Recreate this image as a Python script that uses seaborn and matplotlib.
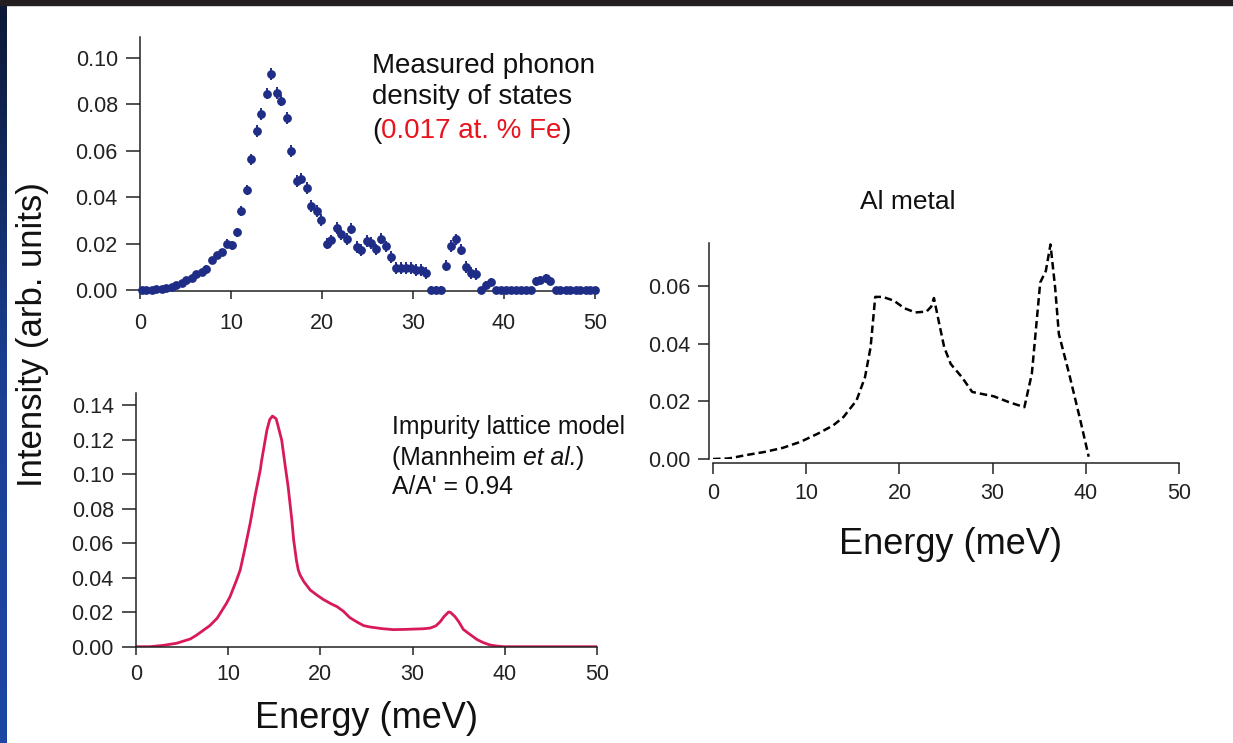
import numpy as np
import matplotlib
matplotlib.use('Agg')
import matplotlib.pyplot as plt
import seaborn as sns
from matplotlib.patches import Rectangle
from matplotlib.colors import LinearSegmentedColormap

# measured phonon DOS (0.017 at.% Fe), points with error bars
meas_energy = [0.2, 0.7, 1.3, 1.8, 2.4, 2.9, 3.5, 4.0, 4.6, 5.1,
               5.7, 6.2, 6.8, 7.3, 7.9, 8.4, 9.0, 9.5, 10.1, 10.6,
               11.1, 11.7, 12.2, 12.8, 13.3, 13.9, 14.4, 15.0, 15.5, 16.1,
               16.6, 17.2, 17.7, 18.3, 18.8, 19.4, 19.9, 20.5, 21.0, 21.6,
               22.1, 22.7, 23.2, 23.8, 24.3, 24.9, 25.4, 25.9, 26.5, 27.0,
               27.6, 28.1, 28.7, 29.2, 29.8, 30.3, 30.9, 31.4, 32.0, 32.5,
               33.1, 33.6, 34.2, 34.7, 35.3, 35.8, 36.4, 36.9, 37.5, 38.0,
               38.6, 39.1, 39.7, 40.2, 40.8, 41.3, 41.9, 42.4, 43.0, 43.5,
               44.0, 44.6, 45.1, 45.7, 46.2, 46.8, 47.3, 47.9, 48.4, 49.0,
               49.5, 50.0]
meas_dos = [0.0, 0.0, 0.0002, 0.0003, 0.0006, 0.0009, 0.0013, 0.0022, 0.0032, 0.0042,
            0.0052, 0.0068, 0.0076, 0.0092, 0.0128, 0.0150, 0.0162, 0.0200, 0.0192, 0.0248,
            0.0340, 0.0432, 0.0563, 0.0686, 0.0758, 0.0846, 0.0930, 0.0850, 0.0816, 0.0740,
            0.0598, 0.0470, 0.0480, 0.0440, 0.0362, 0.0340, 0.0302, 0.0200, 0.0214, 0.0268,
            0.0240, 0.0220, 0.0265, 0.0185, 0.0172, 0.0212, 0.0202, 0.0175, 0.0222, 0.0188,
            0.0142, 0.0096, 0.0096, 0.0096, 0.0096, 0.0086, 0.0086, 0.0074, 0.0, 0.0,
            0.0, 0.0105, 0.0190, 0.0218, 0.0174, 0.0098, 0.0074, 0.0070, 0.0, 0.0020,
            0.0035, 0.0, 0.0, 0.0, 0.0, 0.0, 0.0, 0.0, 0.0, 0.0037,
            0.0043, 0.0050, 0.0038, 0.0, 0.0, 0.0, 0.0, 0.0, 0.0, 0.0,
            0.0, 0.0]
meas_err = [0.0006, 0.0006, 0.0006, 0.0006, 0.0006, 0.0006, 0.0008, 0.0010, 0.0010, 0.0010,
            0.0012, 0.0012, 0.0012, 0.0014, 0.0014, 0.0015, 0.0015, 0.0018, 0.0018, 0.0020,
            0.0022, 0.0022, 0.0025, 0.0025, 0.0025, 0.0025, 0.0025, 0.0025, 0.0025, 0.0025,
            0.0025, 0.0025, 0.0025, 0.0025, 0.0025, 0.0025, 0.0025, 0.0025, 0.0025, 0.0025,
            0.0025, 0.0025, 0.0025, 0.0025, 0.0025, 0.0025, 0.0025, 0.0025, 0.0025, 0.0025,
            0.0025, 0.0025, 0.0025, 0.0025, 0.0025, 0.0025, 0.0025, 0.0025, 0.0018, 0.0018,
            0.0018, 0.0025, 0.0025, 0.0025, 0.0025, 0.0025, 0.0025, 0.0025, 0.0015, 0.0018,
            0.0018, 0.0012, 0.0012, 0.0012, 0.0012, 0.0012, 0.0012, 0.0012, 0.0012, 0.0018,
            0.0018, 0.0018, 0.0018, 0.0012, 0.0012, 0.0012, 0.0012, 0.0012, 0.0012, 0.0012,
            0.0012, 0.0012]

# impurity lattice model (Mannheim et al.)
model_energy = [0, 1.5, 3.0, 4.4, 5.9, 6.6, 8.0, 8.8, 9.8, 10.2, 10.9, 11.3, 11.8, 12.4, 12.9,
                13.5, 13.6, 14.2, 14.5, 14.8, 15.2, 15.4, 15.8, 16.2, 16.5, 16.9, 17.1, 17.4,
                17.6, 17.8, 18.2, 18.9, 19.6, 20.3, 21.1, 21.8, 22.5, 23.2, 24.0, 24.7, 25.4,
                26.5, 26.8, 27.9, 29.0, 30.1, 31.2, 31.9, 32.5, 33.0, 33.4, 33.9, 34.1, 34.6,
                35.0, 35.5, 36.3, 37.0, 37.7, 38.4, 39.1, 39.9, 50]
model_dos = [0, 0, 0.0008, 0.002, 0.0045, 0.0068, 0.0122, 0.0165, 0.025, 0.029, 0.0385, 0.0444,
             0.0565, 0.072, 0.087, 0.103, 0.107, 0.1255, 0.1315, 0.1336, 0.1320, 0.1280, 0.1197,
             0.104, 0.0927, 0.0734, 0.0618, 0.050, 0.0444, 0.0415, 0.0377, 0.0328, 0.030, 0.0274,
             0.025, 0.0232, 0.0205, 0.0168, 0.0142, 0.0122, 0.0114, 0.0106, 0.0104, 0.0099, 0.010,
             0.0102, 0.0104, 0.0108, 0.012, 0.0145, 0.0174, 0.0201, 0.0199, 0.0174, 0.0145,
             0.0100, 0.0068, 0.0041, 0.0023, 0.001, 0.0004, 0, 0]

# Al metal DOS
al_energy = [0, 1.7, 3.6, 5.6, 7.5, 9.4, 11.3, 12.9, 14.0, 15.4, 16.3, 16.9, 17.4, 18.2,
             19.4, 20.5, 21.7, 22.9, 23.4, 23.7, 24.2, 24.8, 25.5, 26.7, 27.8, 29.0, 30.1,
             31.7, 33.4, 34.2, 35.1, 35.7, 36.2, 36.7, 37.1, 38.2, 39.4, 40.3]
al_dos = [0, 0.0002, 0.0014, 0.0025, 0.0039, 0.006, 0.0089, 0.0117, 0.0146, 0.0204, 0.0284, 0.0388, 0.0563, 0.0563,
          0.055, 0.0524, 0.0509, 0.0512, 0.0529, 0.0559, 0.048, 0.0388, 0.033, 0.0284, 0.0233, 0.0225, 0.0218,
          0.0198, 0.018, 0.0296, 0.0613, 0.0653, 0.0745, 0.0595, 0.0434, 0.0296, 0.0135, 0.0008]

sns.set_style('ticks')
plt.rcParams['font.family'] = ['Liberation Sans', 'DejaVu Sans']
plt.rcParams['axes.edgecolor'] = '#222222'
plt.rcParams['axes.linewidth'] = 1.1

W, H = 1233, 743
fig = plt.figure(figsize=(W / 100, H / 100), dpi=100)
fig.patch.set_facecolor('white')

navy = '#1f2d86'
pink = '#d8195c'
tick_fs = 15.5


def px(x, y):
    return x / W, 1 - y / H


def style_axis(ax, xlen, ylen, xpad, ypad):
    ax.set_xlim(0, 50)
    ax.set_xticks([0, 10, 20, 30, 40, 50])
    ax.tick_params(axis='x', length=xlen, width=1.1, pad=xpad, labelsize=tick_fs, colors='#222222')
    ax.tick_params(axis='y', length=ylen, width=1.1, pad=ypad, labelsize=tick_fs, colors='#222222')
    ax.yaxis.set_major_formatter(matplotlib.ticker.FormatStrFormatter('%.2f'))
    ax.set_xlabel('')
    ax.set_ylabel('')
    ax.set_facecolor('none')


# top left: measured points
ax1 = fig.add_axes([0.1136, 0.6081, 0.369, 0.342])
ax1.errorbar(meas_energy, meas_dos, yerr=meas_err, fmt='none', ecolor=navy,
             elinewidth=1.4, capsize=0, zorder=2, clip_on=False)
sns.scatterplot(x=meas_energy, y=meas_dos, ax=ax1, color=navy, s=40,
                linewidth=0, zorder=3, clip_on=False)
ax1.set_ylim(-0.0005, 0.109)
ax1.set_yticks([0, 0.02, 0.04, 0.06, 0.08, 0.10])
style_axis(ax1, 6, 10, 10, 6)
sns.despine(ax=ax1)

# bottom left: model curve
ax2 = fig.add_axes([0.1103, 0.1296, 0.3739, 0.3416])
sns.lineplot(x=model_energy, y=model_dos, ax=ax2, color=pink, linewidth=2.0,
             sort=False, estimator=None)
ax2.lines[0].set_solid_joinstyle('round')
ax2.set_ylim(0, 0.147)
ax2.set_yticks([0, 0.02, 0.04, 0.06, 0.08, 0.10, 0.12, 0.14])
style_axis(ax2, 6, 10, 6.5, 6)
sns.despine(ax=ax2)

# right: Al metal
ax3 = fig.add_axes([0.5783, 0.3822, 0.378, 0.2907])
sns.lineplot(x=al_energy, y=al_dos, ax=ax3, color='black', linewidth=1.8,
             sort=False, estimator=None)
ax3.lines[0].set_linestyle((0, (3.0, 1.6)))
ax3.set_ylim(0, 0.075)
ax3.set_yticks([0, 0.02, 0.04, 0.06])
style_axis(ax3, 8, 8, 6, 5)
sns.despine(ax=ax3, offset=3)

# annotations
fs_big = 20
fig.text(*px(372, 73), 'Measured phonon', fontsize=fs_big, va='baseline', color='#111111')
fig.text(*px(372, 104), 'density of states', fontsize=fs_big, va='baseline', color='#111111')
t0 = fig.text(*px(372, 138), '(', fontsize=fs_big, va='baseline', color='#111111')
t1 = ax1.annotate('0.017 at. % Fe', xy=(1, 0), xycoords=t0, va='bottom', ha='left',
                  fontsize=fs_big, color='#e8141e')
ax1.annotate(')', xy=(1, 0), xycoords=t1, va='bottom', ha='left',
             fontsize=fs_big, color='#111111')

fs_mid = 17.8
fig.text(*px(392, 434), 'Impurity lattice model', fontsize=fs_mid, va='baseline', color='#111111')
m0 = fig.text(*px(392, 465), '(Mannheim ', fontsize=fs_mid, va='baseline', color='#111111')
m1 = ax2.annotate('et al.', xy=(1, 0), xycoords=m0, va='bottom', ha='left',
                  fontsize=fs_mid, style='italic', color='#111111')
ax2.annotate(')', xy=(1, 0), xycoords=m1, va='bottom', ha='left',
             fontsize=fs_mid, color='#111111')
fig.text(*px(392, 494), "A/A' = 0.94", fontsize=fs_mid, va='baseline', color='#111111')

fig.text(*px(908, 202), 'Al metal', fontsize=19, ha='center', va='center', color='#111111')

# axis titles
fig.text(*px(33, 335), 'Intensity (arb. units)', fontsize=25, rotation=90,
         ha='center', va='center', color='#111111')
fig.text(*px(366, 718), 'Energy (meV)', fontsize=26, ha='center', va='center', color='#111111')
fig.text(*px(951, 545), 'Energy (meV)', fontsize=26, ha='center', va='center', color='#111111')

# slide frame: dark top strip and blue left strip
fig.add_artist(Rectangle((0, 1 - 5 / H), 1, 5 / H, transform=fig.transFigure,
                         color='#231f20', zorder=10))
bar = fig.add_axes([0, 0, 7 / W, 1 - 5 / H])
cmap = LinearSegmentedColormap.from_list('frame', ['#0c1836', '#1a3f92', '#1c47a3'])
bar.imshow(np.linspace(0, 1, 100).reshape(-1, 1), aspect='auto', cmap=cmap)
bar.axis('off')

fig.savefig('out.png', dpi=100)
